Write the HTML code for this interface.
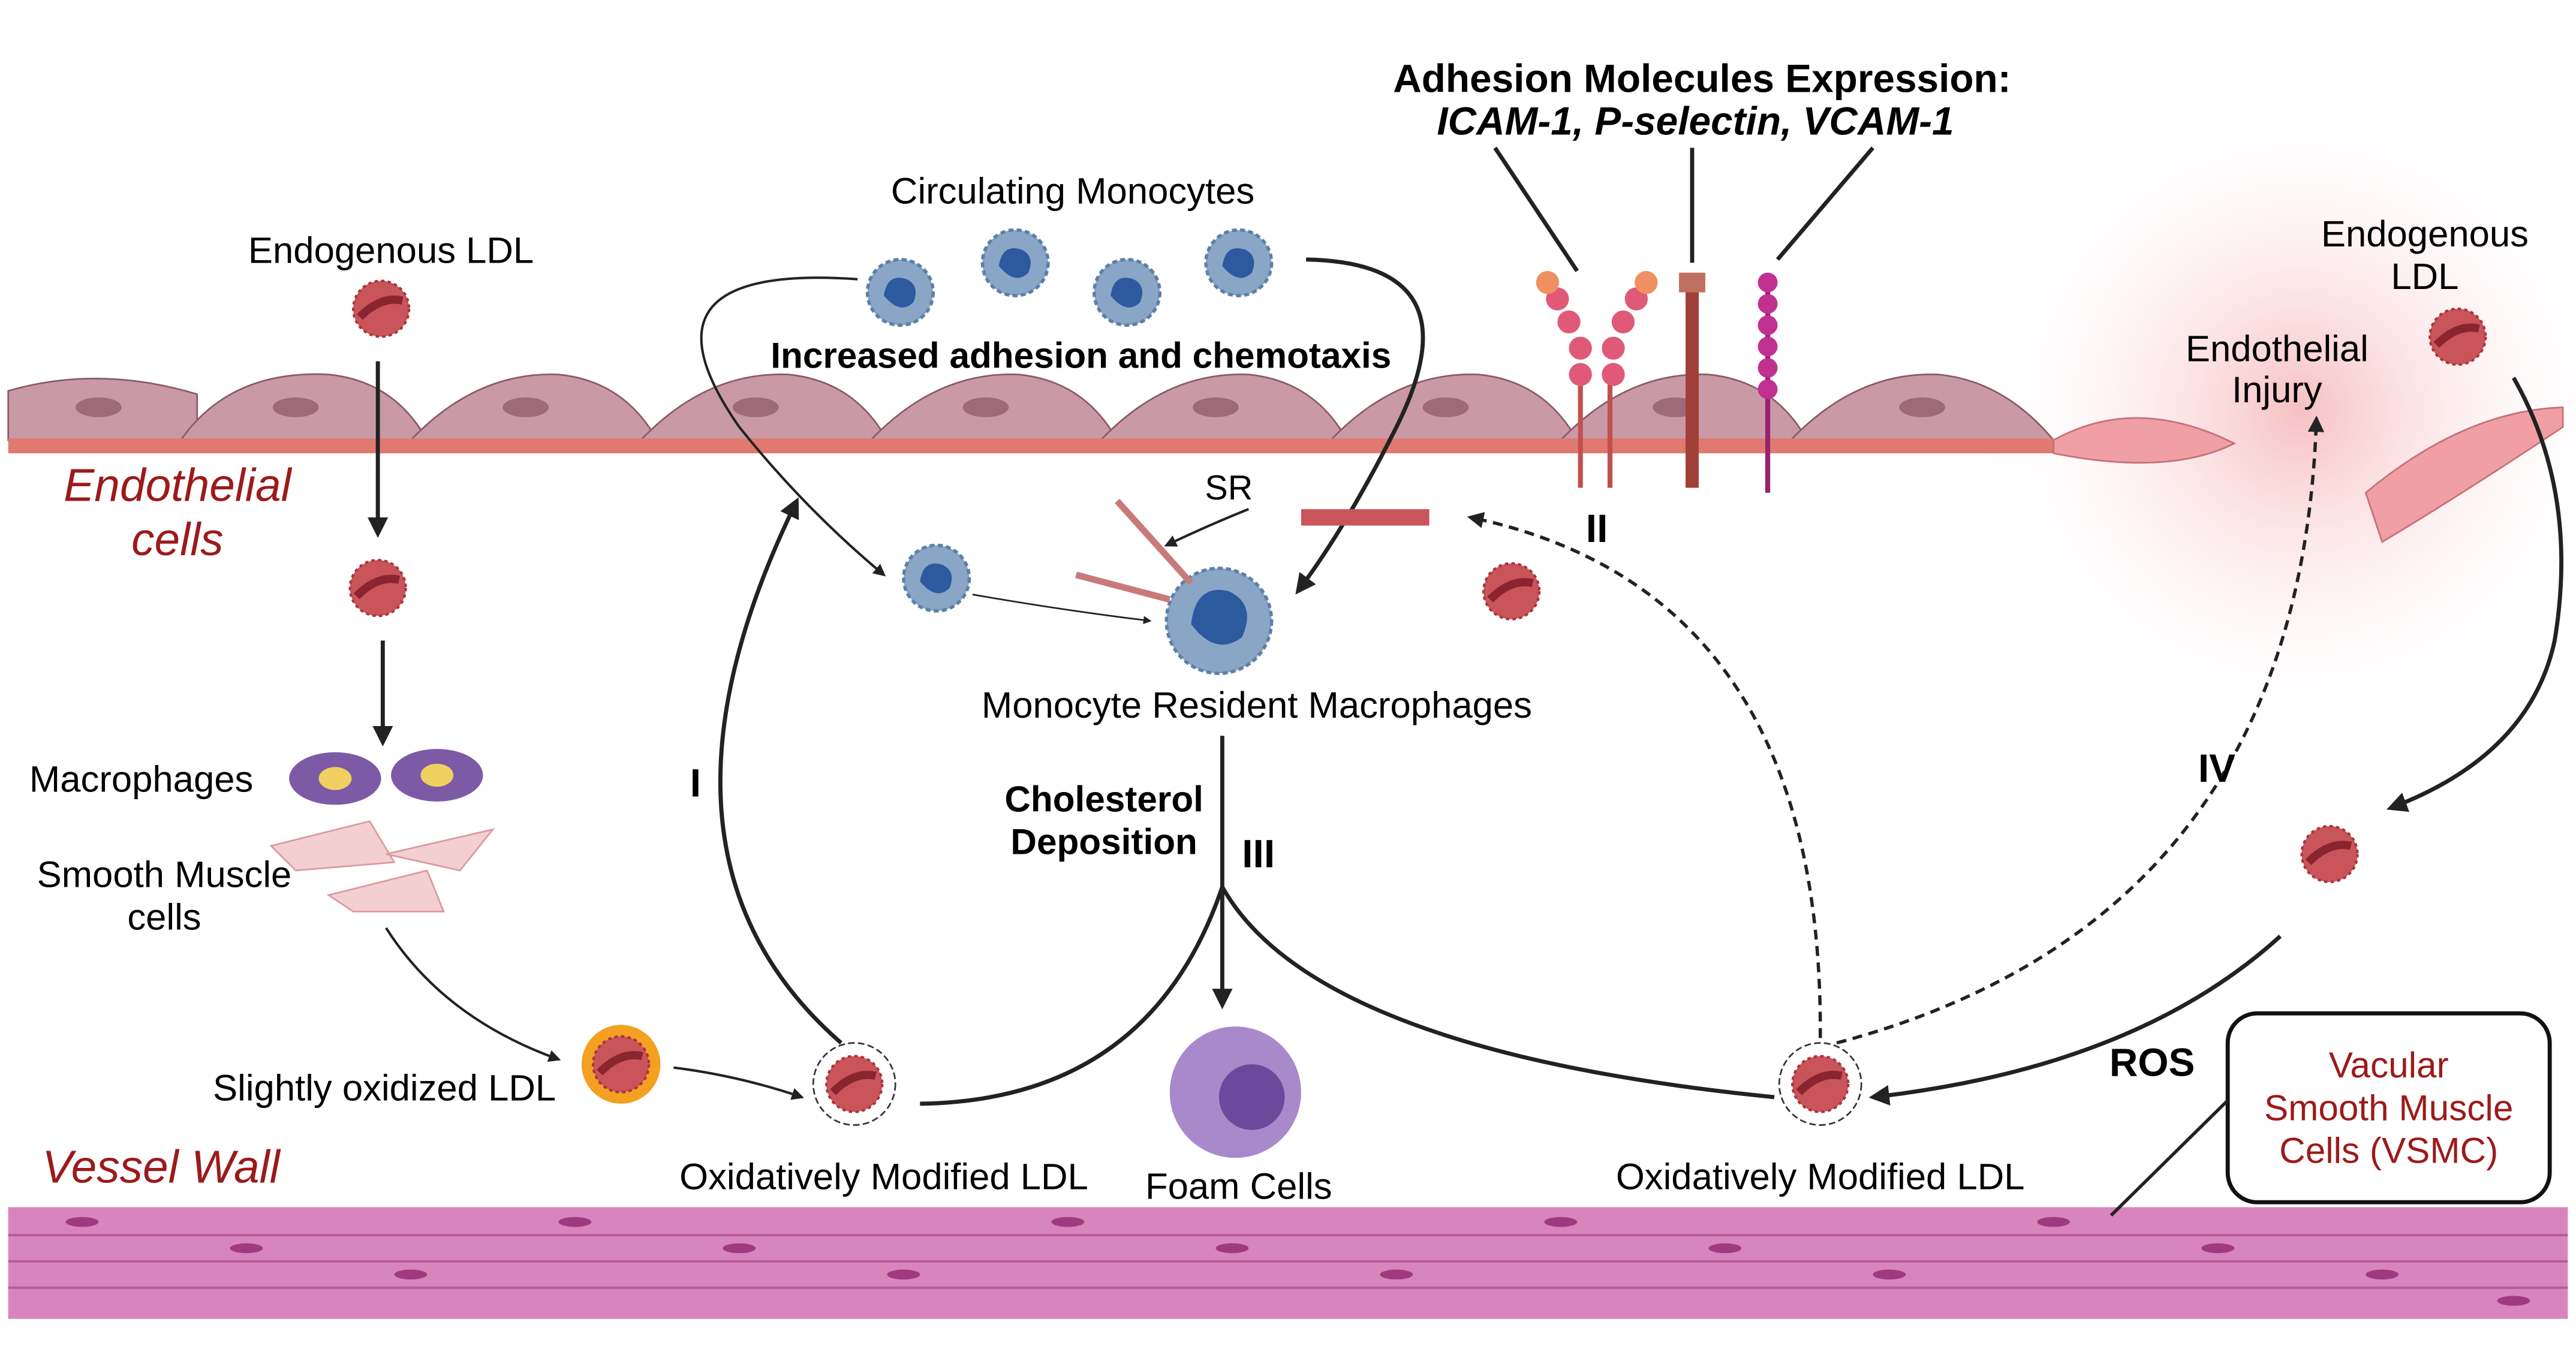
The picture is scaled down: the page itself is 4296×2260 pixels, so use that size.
<!DOCTYPE html>
<html><head><meta charset="utf-8"><style>
html,body{margin:0;padding:0;background:#fff;}
svg{display:block;}
text{font-family:"Liberation Sans",sans-serif;}
</style></head><body>
<svg width="4296" height="2260" viewBox="0 0 1568 825" preserveAspectRatio="none" xmlns="http://www.w3.org/2000/svg">
<defs>
<radialGradient id="glow" cx="0.5" cy="0.5" r="0.5">
<stop offset="0" stop-color="#f6b9bc" stop-opacity="0.9"/>
<stop offset="1" stop-color="#fff" stop-opacity="0"/>
</radialGradient>
<marker id="ar" viewBox="0 0 10 10" refX="8" refY="5" markerWidth="5" markerHeight="5" orient="auto"><path d="M0,0L10,5L0,10z" fill="#222"/></marker>
<g id="ldl"><circle r="17" fill="#c9545a"/><circle r="17" fill="none" stroke="#a8343c" stroke-width="1.5" stroke-dasharray="2 2"/><path d="M-13,5 Q0,-8 13,-5" stroke="#8a2530" stroke-width="5" fill="none"/></g>
<g id="mono"><circle r="20" fill="#8aa6c6" stroke="#5d7fa6" stroke-width="2" stroke-dasharray="3 2"/><path d="M-10,2 Q-8,-12 4,-8 Q12,-4 8,6 Q0,14 -10,2z" fill="#2d5a9e"/></g>
<g id="oxldl"><circle r="25" fill="none" stroke="#333" stroke-width="1" stroke-dasharray="4 2"/><use href="#ldl"/></g>
</defs>
<rect width="1568" height="825" fill="#fff"/>
<circle cx="1400" cy="250" r="200" fill="url(#glow)"/>
<g fill="#c99aa6" stroke="#8a5a68" stroke-width="1">
<path d="M5,238 Q60,222 120,240 L120,268 L5,268z"/>
<path d="M110,268 Q140,225 200,228 Q240,232 260,268z"/>
<path d="M250,268 Q290,226 340,228 Q380,232 400,268z"/>
<path d="M390,268 Q430,226 480,228 Q520,232 540,268z"/>
<path d="M530,268 Q570,226 620,228 Q660,232 680,268z"/>
<path d="M670,268 Q710,226 760,228 Q800,232 820,268z"/>
<path d="M810,268 Q850,226 900,228 Q940,232 960,268z"/>
<path d="M950,268 Q990,226 1040,228 Q1080,232 1100,268z"/>
<path d="M1090,268 Q1130,226 1180,228 Q1220,232 1250,268z"/>
</g>
<g fill="#9c6a78">
<ellipse cx="60" cy="248" rx="14" ry="6"/><ellipse cx="180" cy="248" rx="14" ry="6"/><ellipse cx="320" cy="248" rx="14" ry="6"/><ellipse cx="460" cy="248" rx="14" ry="6"/><ellipse cx="600" cy="248" rx="14" ry="6"/><ellipse cx="740" cy="248" rx="14" ry="6"/><ellipse cx="880" cy="248" rx="14" ry="6"/><ellipse cx="1020" cy="248" rx="14" ry="6"/><ellipse cx="1170" cy="248" rx="14" ry="6"/>
</g>
<rect x="5" y="267" width="1250" height="9" fill="#e07a70"/>
<path d="M1250,268 Q1300,240 1360,270 Q1320,290 1250,276z" fill="#f0a0a4" stroke="#c47078"/>
<path d="M1440,300 Q1500,250 1560,248 L1560,260 Q1500,300 1450,330z" fill="#f0a0a4" stroke="#c47078"/>
<rect x="5" y="735" width="1558" height="68" fill="#d884bd"/>
<g stroke="#b85a9a" stroke-width="1.5">
<line x1="5" y1="752" x2="1563" y2="752"/><line x1="5" y1="768" x2="1563" y2="768"/><line x1="5" y1="784" x2="1563" y2="784"/>
</g>
<g fill="#a03a80">
<ellipse cx="50" cy="744" rx="10" ry="3"/><ellipse cx="150" cy="760" rx="10" ry="3"/><ellipse cx="250" cy="776" rx="10" ry="3"/><ellipse cx="350" cy="744" rx="10" ry="3"/><ellipse cx="450" cy="760" rx="10" ry="3"/><ellipse cx="550" cy="776" rx="10" ry="3"/><ellipse cx="650" cy="744" rx="10" ry="3"/><ellipse cx="750" cy="760" rx="10" ry="3"/><ellipse cx="850" cy="776" rx="10" ry="3"/><ellipse cx="950" cy="744" rx="10" ry="3"/><ellipse cx="1050" cy="760" rx="10" ry="3"/><ellipse cx="1150" cy="776" rx="10" ry="3"/><ellipse cx="1250" cy="744" rx="10" ry="3"/><ellipse cx="1350" cy="760" rx="10" ry="3"/><ellipse cx="1450" cy="776" rx="10" ry="3"/><ellipse cx="1530" cy="792" rx="10" ry="3"/>
</g>
<text x="108" y="305" font-size="28" font-style="italic" fill="#9c1a1a" text-anchor="middle">Endothelial</text>
<text x="108" y="338" font-size="28" font-style="italic" fill="#9c1a1a" text-anchor="middle">cells</text>
<text x="98" y="720" font-size="28" font-style="italic" fill="#9c1a1a" text-anchor="middle">Vessel Wall</text>
<text x="238" y="160" font-size="22.5" text-anchor="middle">Endogenous LDL</text>
<use href="#ldl" x="232" y="188"/>
<line x1="230" y1="220" x2="230" y2="325" stroke="#222" stroke-width="2.5" marker-end="url(#ar)"/>
<use href="#ldl" x="230" y="358"/>
<line x1="233" y1="390" x2="233" y2="452" stroke="#222" stroke-width="2.5" marker-end="url(#ar)"/>
<text x="86" y="482" font-size="22.5" text-anchor="middle">Macrophages</text>
<ellipse cx="204" cy="474" rx="28" ry="16" fill="#7d5aa6"/><ellipse cx="204" cy="474" rx="10" ry="7" fill="#f0d060"/>
<ellipse cx="266" cy="472" rx="28" ry="16" fill="#7d5aa6"/><ellipse cx="266" cy="472" rx="10" ry="7" fill="#f0d060"/>
<text x="100" y="540" font-size="22.5" text-anchor="middle">Smooth Muscle</text>
<text x="100" y="566" font-size="22.5" text-anchor="middle">cells</text>
<g fill="#f4cfd2" stroke="#d89aa0"><path d="M165,515 L225,500 L240,525 L180,530z"/><path d="M235,520 L300,505 L280,530z"/><path d="M200,545 L260,530 L270,555 L215,555z"/></g>
<path d="M235,565 Q270,620 340,645" stroke="#222" stroke-width="1.5" fill="none" marker-end="url(#ar)"/>
<circle cx="378" cy="648" r="24" fill="#f4a020"/><use href="#ldl" x="378" y="648"/>
<text x="234" y="670" font-size="22.5" text-anchor="middle">Slightly oxidized LDL</text>
<path d="M410,650 Q450,655 488,668" stroke="#222" stroke-width="1.5" fill="none" marker-end="url(#ar)"/>
<use href="#oxldl" x="520" y="660"/>
<text x="538" y="724" font-size="22.5" text-anchor="middle">Oxidatively Modified LDL</text>
<path d="M512,635 Q380,520 485,305" stroke="#222" stroke-width="2.5" fill="none" marker-end="url(#ar)"/>
<text x="420" y="485" font-size="24" font-weight="bold">I</text>
<text x="653" y="124" font-size="22.5" text-anchor="middle">Circulating Monocytes</text>
<use href="#mono" x="548" y="178"/><use href="#mono" x="618" y="160"/><use href="#mono" x="686" y="178"/><use href="#mono" x="754" y="160"/>
<text x="658" y="224" font-size="22" font-weight="bold" text-anchor="middle">Increased adhesion and chemotaxis</text>
<path d="M522,170 Q380,160 450,260 Q490,310 538,350" stroke="#222" stroke-width="1.5" fill="none" marker-end="url(#ar)"/>
<path d="M795,158 Q900,160 850,260 Q820,320 790,360" stroke="#222" stroke-width="2.5" fill="none" marker-end="url(#ar)"/>
<use href="#mono" x="570" y="352"/>
<path d="M592,362 Q650,372 700,378" stroke="#222" stroke-width="1" fill="none" marker-end="url(#ar)"/>
<circle cx="742" cy="378" r="32" fill="#8aa6c6" stroke="#5d7fa6" stroke-width="2" stroke-dasharray="3 2"/>
<path d="M725,380 Q728,355 748,360 Q765,368 756,388 Q740,400 725,380z" fill="#2d5a9e"/>
<line x1="680" y1="305" x2="725" y2="355" stroke="#c87a7a" stroke-width="4"/>
<line x1="655" y1="350" x2="712" y2="365" stroke="#c87a7a" stroke-width="4"/>
<text x="748" y="304" font-size="21" text-anchor="middle">SR</text>
<path d="M760,310 Q735,320 710,332" stroke="#222" stroke-width="1.5" fill="none" marker-end="url(#ar)"/>
<text x="765" y="437" font-size="22.5" text-anchor="middle">Monocyte Resident Macrophages</text>
<rect x="792" y="310" width="78" height="10" fill="#c9545a"/>
<use href="#ldl" x="920" y="360"/>
<text x="672" y="494" font-size="22" font-weight="bold" text-anchor="middle">Cholesterol</text>
<text x="672" y="520" font-size="22" font-weight="bold" text-anchor="middle">Deposition</text>
<line x1="744" y1="448" x2="744" y2="540" stroke="#222" stroke-width="2.5"/>
<line x1="744" y1="540" x2="744" y2="612" stroke="#222" stroke-width="2.5" marker-end="url(#ar)"/>
<text x="756" y="528" font-size="24" font-weight="bold">III</text>
<path d="M560,672 Q700,670 744,540 Q800,640 1080,668" stroke="#222" stroke-width="2.5" fill="none"/>
<circle cx="752" cy="665" r="40" fill="#a88acb"/><circle cx="762" cy="668" r="20" fill="#6a4a9a"/>
<text x="754" y="730" font-size="22.5" text-anchor="middle">Foam Cells</text>
<use href="#oxldl" x="1108" y="660"/>
<text x="1108" y="724" font-size="22.5" text-anchor="middle">Oxidatively Modified LDL</text>
<path d="M1108,632 Q1110,360 895,315" stroke="#222" stroke-width="2" stroke-dasharray="6 4" fill="none" marker-end="url(#ar)"/>
<path d="M1118,635 Q1400,560 1410,255" stroke="#222" stroke-width="2" stroke-dasharray="6 4" fill="none" marker-end="url(#ar)"/>
<text x="1338" y="476" font-size="24" font-weight="bold">IV</text>
<text x="1386" y="220" font-size="22.5" text-anchor="middle">Endothelial</text>
<text x="1386" y="245" font-size="22.5" text-anchor="middle">Injury</text>
<text x="1476" y="150" font-size="22.5" text-anchor="middle">Endogenous</text>
<text x="1476" y="176" font-size="22.5" text-anchor="middle">LDL</text>
<use href="#ldl" x="1496" y="205"/>
<path d="M1530,230 Q1570,300 1555,390 Q1540,460 1455,492" stroke="#222" stroke-width="2.5" fill="none" marker-end="url(#ar)"/>
<use href="#ldl" x="1418" y="520"/>
<path d="M1388,570 Q1300,650 1140,668" stroke="#222" stroke-width="2.5" fill="none" marker-end="url(#ar)"/>
<text x="1310" y="655" font-size="24" font-weight="bold" text-anchor="middle">ROS</text>
<rect x="1356" y="617" width="196" height="115" rx="18" fill="#fff" stroke="#111" stroke-width="2.5"/>
<text x="1454" y="656" font-size="22" fill="#9c1a1a" text-anchor="middle">Vacular</text>
<text x="1454" y="682" font-size="22" fill="#9c1a1a" text-anchor="middle">Smooth Muscle</text>
<text x="1454" y="708" font-size="22" fill="#9c1a1a" text-anchor="middle">Cells (VSMC)</text>
<line x1="1356" y1="670" x2="1285" y2="740" stroke="#222" stroke-width="2"/>
<text x="1036" y="56" font-size="24" font-weight="bold" text-anchor="middle">Adhesion Molecules Expression:</text>
<text x="1032" y="82" font-size="24" font-weight="bold" font-style="italic" text-anchor="middle">ICAM-1, P-selectin, VCAM-1</text>
<line x1="910" y1="90" x2="960" y2="165" stroke="#222" stroke-width="2.5"/>
<line x1="1030" y1="90" x2="1030" y2="160" stroke="#222" stroke-width="2.5"/>
<line x1="1140" y1="90" x2="1082" y2="158" stroke="#222" stroke-width="2.5"/>
<g stroke="#c05050" stroke-width="3"><line x1="962" y1="230" x2="962" y2="297"/><line x1="980" y1="230" x2="980" y2="297"/></g>
<g fill="#e05a78"><circle cx="962" cy="228" r="7"/><circle cx="962" cy="212" r="7"/><circle cx="955" cy="196" r="7"/><circle cx="948" cy="182" r="7"/><circle cx="982" cy="228" r="7"/><circle cx="982" cy="212" r="7"/><circle cx="988" cy="196" r="7"/><circle cx="996" cy="182" r="7"/></g>
<circle cx="942" cy="172" r="7" fill="#f09060"/><circle cx="1002" cy="172" r="7" fill="#f09060"/>
<rect x="1026" y="172" width="8" height="125" fill="#a04038"/><rect x="1022" y="166" width="16" height="12" fill="#c07060"/>
<line x1="1076" y1="170" x2="1076" y2="300" stroke="#9a2070" stroke-width="3"/>
<g fill="#c03090"><circle cx="1076" cy="172" r="6"/><circle cx="1076" cy="185" r="6"/><circle cx="1076" cy="198" r="6"/><circle cx="1076" cy="211" r="6"/><circle cx="1076" cy="224" r="6"/><circle cx="1076" cy="237" r="6"/></g>
<text x="972" y="330" font-size="24" font-weight="bold" text-anchor="middle">II</text>
</svg>
</body></html>
